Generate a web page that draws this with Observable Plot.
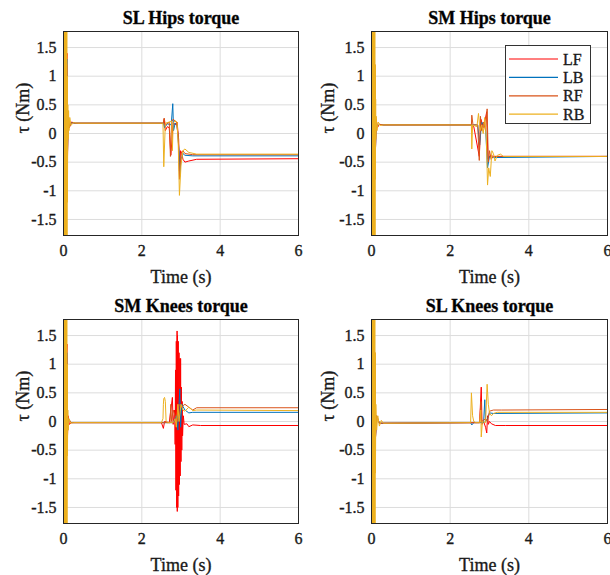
<!DOCTYPE html>
<html><head><meta charset="utf-8">
<script src="https://cdn.jsdelivr.net/npm/d3@7"></script>
<script src="https://cdn.jsdelivr.net/npm/@observablehq/plot@0.6"></script>
<style>
body{margin:0;background:#fff;}
#wrap{position:relative;width:610px;height:575px;overflow:hidden;font-family:"Liberation Serif","Times New Roman",serif;background:#fff;}
.panel{position:absolute;}
.panel text{stroke:#1a1a1a;stroke-width:0.35px;}
#legend{position:absolute;left:505px;top:45px;width:84px;height:77px;border:1px solid #333;background:#fff;}
#legend text{stroke:#1a1a1a;stroke-width:0.35px;}
</style></head><body><div id="wrap"></div><script>
// ---------- data ----------
const seriesNames = ["LF", "LB", "RF", "RB"];
const seriesColors = ["#FF0000", "#0072BD", "#D95319", "#EDB120"];
const xTicks = [0, 2, 4, 6];
const yTicks = [-1.5, -1, -0.5, 0, 0.5, 1, 1.5];
const yTickLabels = ["-1.5", "-1", "-0.5", "0", "0.5", "1", "1.5"];
const panelTitles = ["SL Hips torque", "SM Hips torque", "SM Knees torque", "SL Knees torque"];

// initial start-up burst (t in s, torque in Nm)
const burstRB = [[0,0],[0.004,1.8],[0.009,-1.8],[0.014,1.8],[0.019,-1.8],[0.024,1.8],[0.029,-1.8],[0.034,1.8],[0.039,-1.8],[0.044,1.8],[0.049,-1.8],[0.054,1.8],[0.059,-1.8],[0.064,1.8],[0.069,-1.8],[0.074,1.8],[0.079,-1.8],[0.084,1.8],[0.089,-1.8]];
const burstOther = [[0,0],[0.006,1.8],[0.013,-1.8],[0.02,1.8],[0.027,-1.8],[0.034,1.8],[0.041,-1.8],[0.048,1.6],[0.055,-1.6],[0.062,1.5],[0.07,-1.4],[0.078,1.2]];

// SL Hips torque
const slHipsLF = [[0.09,1.4],[0.1,-0.5],[0.12,0.3],[0.15,0.1],[0.2,0.2],[0.3,0.18],[2.55,0.18],[2.57,0.25],[2.6,0.05],[2.65,0.12],[2.7,0.1],[2.74,-0.38],[2.77,-0.1],[2.8,0.2],[2.85,0.15],[2.9,0.2],[2.94,-0.1],[2.96,-0.65],[2.99,-0.3],[3.02,-0.35],[3.05,-0.45],[3.1,-0.5],[3.2,-0.48],[3.4,-0.45],[6,-0.44]];
const slHipsLB = [[0.09,1.3],[0.1,-0.4],[0.12,0.3],[0.15,0.12],[0.2,0.19],[0.3,0.18],[2.55,0.18],[2.58,0.1],[2.65,0.17],[2.75,0.15],[2.79,0.52],[2.81,0.05],[2.85,0.18],[2.9,0.15],[2.95,-0.3],[2.97,-0.75],[3.0,-0.45],[3.05,-0.35],[3.1,-0.38],[3.3,-0.39],[6,-0.39]];
const slHipsRF = [[0.09,1.2],[0.1,-0.4],[0.12,0.25],[0.15,0.12],[0.2,0.19],[0.3,0.18],[2.55,0.18],[2.57,0.27],[2.6,0.15],[2.7,0.2],[2.73,-0.4],[2.76,0.2],[2.8,0.25],[2.88,0.2],[2.93,-0.05],[2.96,-0.8],[3.0,-0.35],[3.05,-0.3],[3.1,-0.35],[3.3,-0.37],[6,-0.37]];
const slHipsRB = [[0.095,1.0],[0.1,-1.2],[0.11,0.5],[0.12,-0.1],[0.13,0.4],[0.14,0.05],[0.16,0.28],[0.19,0.14],[0.25,0.19],[0.35,0.18],[2.54,0.18],[2.56,-0.58],[2.6,0.18],[2.7,0.2],[2.76,0.22],[2.78,-0.3],[2.8,0.18],[2.85,0.22],[2.9,0.2],[2.93,-0.2],[2.96,-1.08],[3.0,-0.55],[3.05,-0.3],[3.1,-0.27],[3.2,-0.33],[3.4,-0.36],[6,-0.36]];

// SM Hips torque
const smHipsLF = [[0.09,1.2],[0.1,-0.3],[0.12,0.25],[0.15,0.1],[0.2,0.16],[0.3,0.15],[2.55,0.15],[2.6,0.12],[2.74,-0.4],[2.78,0.25],[2.85,0.1],[2.93,0.38],[2.96,-0.45],[3.02,-0.38],[3.1,-0.4],[6,-0.4]];
const smHipsLB = [[0.09,1.1],[0.1,-0.3],[0.12,0.2],[0.15,0.12],[0.2,0.16],[0.3,0.15],[2.55,0.15],[2.7,0.15],[2.75,-0.2],[2.8,0.2],[2.9,0.1],[2.95,-0.6],[3.0,-0.4],[3.1,-0.42],[6,-0.4]];
const smHipsRF = [[0.09,1.0],[0.1,-0.3],[0.12,0.2],[0.15,0.12],[0.2,0.16],[0.3,0.15],[2.54,0.15],[2.55,0.32],[2.58,0.15],[2.7,0.15],[2.74,-0.47],[2.77,0.3],[2.8,0.05],[2.85,0.2],[2.9,0.05],[2.94,0.43],[2.97,-0.5],[3.0,-0.3],[3.04,-0.45],[3.1,-0.4],[6,-0.4]];
const smHipsRB = [[0.095,1.2],[0.1,-0.8],[0.105,0.6],[0.11,-0.1],[0.12,0.3],[0.14,0.05],[0.17,0.2],[0.22,0.14],[0.3,0.15],[2.54,0.15],[2.55,-0.27],[2.57,0.15],[2.68,0.12],[2.72,0.35],[2.76,0.05],[2.8,0.15],[2.84,0.0],[2.88,0.28],[2.92,-0.1],[2.95,-0.9],[2.98,-0.6],[3.02,-0.75],[3.06,-0.3],[3.1,-0.35],[3.14,-0.48],[3.2,-0.38],[3.28,-0.36],[3.35,-0.4],[6,-0.4]];

// SM Knees torque
const smKneesLF = [[0.09,1.35],[0.1,-0.3],[0.12,0.1],[0.15,-0.05],[0.2,-0.02],[2.5,-0.02],[2.55,-0.12],[2.58,0],[2.7,-0.02],[2.78,0.42],[2.8,-0.05],[2.84,0.2],[2.85,-0.4],[2.86,0.9],[2.87,-1.2],[2.88,1.4],[2.89,-1.5],[2.9,1.58],[2.905,-1.57],[2.91,1.5],[2.92,-1.5],[2.93,1.4],[2.94,-1.3],[2.95,1.2],[2.96,-1.1],[2.97,1.1],[2.98,-0.95],[2.99,1.1],[3.0,-0.7],[3.01,0.6],[3.02,-0.5],[3.03,0.35],[3.04,-0.25],[3.06,0.1],[3.08,-0.05],[3.15,-0.04],[3.2,-0.09],[3.3,-0.06],[3.5,-0.07],[6,-0.07]];
const smKneesLB = [[0.09,1.2],[0.1,-0.2],[0.12,0.05],[0.2,-0.02],[2.8,-0.02],[2.88,0.1],[2.92,-0.15],[2.95,0.3],[2.97,0.57],[2.99,-0.1],[3.02,0.3],[3.1,0.2],[3.2,0.15],[3.3,0.16],[6,0.16]];
const smKneesRF = [[0.09,1.1],[0.1,-0.2],[0.12,0.05],[0.2,-0.02],[2.72,-0.02],[2.74,0.3],[2.76,0],[2.8,0.2],[2.85,0.1],[2.9,0.0],[2.95,0.3],[3.0,0.25],[3.1,0.3],[3.2,0.25],[3.3,0.2],[3.4,0.24],[6,0.24]];
const smKneesRB = [[0.095,1.0],[0.1,-0.6],[0.11,0.2],[0.12,-0.15],[0.14,0.05],[0.18,-0.03],[0.25,-0.02],[2.5,-0.02],[2.54,0.05],[2.55,0.3],[2.56,0.4],[2.58,0.42],[2.6,0.35],[2.62,0.0],[2.65,-0.02],[2.8,-0.02],[2.85,0.05],[2.88,-0.1],[2.92,0.3],[2.95,0.0],[3.0,0.3],[3.05,0.2],[3.1,0.18],[3.2,0.25],[3.3,0.19],[3.4,0.2],[6,0.19]];

// SL Knees torque
const slKneesLF = [[0.09,1.2],[0.1,-0.3],[0.13,0.1],[0.2,-0.03],[2.75,-0.02],[2.77,0.3],[2.79,0.6],[2.81,-0.05],[2.85,0.0],[2.9,-0.1],[2.93,-0.2],[2.95,0.1],[2.97,-0.05],[3.0,0.0],[3.05,-0.04],[3.15,-0.07],[3.4,-0.07],[6,-0.07]];
const slKneesLB = [[0.09,1.1],[0.1,-0.3],[0.13,0.1],[0.2,-0.03],[2.52,-0.02],[2.55,-0.06],[2.6,-0.02],[2.85,-0.02],[2.88,0.38],[2.9,0.0],[2.95,0.05],[3.0,0.15],[3.1,0.14],[6,0.15]];
const slKneesRF = [[0.09,1.0],[0.1,-0.3],[0.13,0.1],[0.2,-0.03],[2.75,-0.02],[2.78,0.35],[2.8,0.0],[2.9,0.05],[2.95,0.0],[3.0,0.18],[3.1,0.2],[3.3,0.2],[6,0.21]];
const slKneesRB = [[0.095,1.2],[0.1,-0.9],[0.11,0.3],[0.13,-0.15],[0.16,0.1],[0.2,-0.08],[0.25,0.02],[0.3,-0.03],[2.52,-0.02],[2.54,0.5],[2.57,0.1],[2.6,0.0],[2.65,-0.02],[2.75,-0.02],[2.78,0.2],[2.79,-0.27],[2.82,0.0],[2.9,-0.02],[2.94,0.65],[2.97,0.3],[3.0,0.15],[3.05,0.1],[3.1,0.14],[3.2,0.16],[6,0.16]];

// ---------- drawing ----------
const panels = [
  {title: panelTitles[0], data: [slHipsLF, slHipsLB, slHipsRF, slHipsRB], left: 0, top: 0, height: 290, ml: 63, mr: 7, mt: 31, mb: 55, ydx: -40},
  {title: panelTitles[1], data: [smHipsLF, smHipsLB, smHipsRF, smHipsRB], left: 305, top: 0, height: 290, ml: 66, mr: 3, mt: 31, mb: 55, ydx: -43},
  {title: panelTitles[2], data: [smKneesLF, smKneesLB, smKneesRF, smKneesRB], left: 0, top: 290, height: 285, ml: 63, mr: 7, mt: 29, mb: 52, ydx: -40},
  {title: panelTitles[3], data: [slKneesLF, slKneesLB, slKneesRF, slKneesRB], left: 305, top: 290, height: 285, ml: 66, mr: 3, mt: 29, mb: 52, ydx: -43}
];

const wrap = document.getElementById("wrap");
for (const p of panels) {
  const rows = [];
  seriesNames.forEach((s, i) => {
    const burst = s === "RB" ? burstRB : burstOther;
    burst.concat(p.data[i]).forEach(([t, v]) => rows.push({t, v, s}));
  });
  const chart = Plot.plot({
    width: 305, height: p.height,
    marginLeft: p.ml, marginRight: p.mr, marginTop: p.mt, marginBottom: p.mb,
    style: {fontFamily: "'Liberation Serif','Times New Roman',serif", fontSize: "16px", color: "#1a1a1a", background: "transparent"},
    x: {domain: [0, 6]},
    y: {domain: [-1.78, 1.78]},
    color: {domain: seriesNames, range: seriesColors},
    marks: [
      Plot.gridX(xTicks, {stroke: "#dcdcdc", strokeOpacity: 1, strokeWidth: 1}),
      Plot.gridY(yTicks, {stroke: "#dcdcdc", strokeOpacity: 1, strokeWidth: 1}),
      Plot.line(rows, {x: "t", y: "v", z: "s", stroke: "s", strokeWidth: 1, clip: true}),
      Plot.frame({stroke: "#262626", strokeWidth: 1}),
      Plot.axisX(xTicks, {tickSize: 0, tickPadding: 9, fontSize: 16, label: null, tickFormat: d => String(d)}),
      Plot.axisY(yTicks, {tickSize: 0, tickPadding: 7, fontSize: 16, label: null, tickFormat: d => yTickLabels[yTicks.indexOf(d)]}),
      Plot.text([p.title], {text: d => d, frameAnchor: "top", lineAnchor: "middle", dy: -13, fontSize: 18, fontWeight: "bold", fill: "#000"}),
      Plot.text(["Time (s)"], {text: d => d, frameAnchor: "bottom", lineAnchor: "middle", dy: 42, fontSize: 18, fill: "#1a1a1a"}),
      Plot.text(["τ (Nm)"], {text: d => d, frameAnchor: "left", lineAnchor: "middle", dx: p.ydx, rotate: -90, fontSize: 18, fill: "#1a1a1a"})
    ]
  });
  chart.classList.add("panel");
  chart.style.left = p.left + "px";
  chart.style.top = p.top + "px";
  wrap.appendChild(chart);
}

// legend (top-right panel)
const legend = document.createElement("div");
legend.id = "legend";
const ns = "http://www.w3.org/2000/svg";
const lsvg = document.createElementNS(ns, "svg");
lsvg.setAttribute("width", 84); lsvg.setAttribute("height", 77);
seriesNames.forEach((s, i) => {
  const y = 13 + i * 18.4;
  const line = document.createElementNS(ns, "line");
  line.setAttribute("x1", 3); line.setAttribute("x2", 52);
  line.setAttribute("y1", y); line.setAttribute("y2", y);
  line.setAttribute("stroke", seriesColors[i]); line.setAttribute("stroke-width", 1.2);
  lsvg.appendChild(line);
  const tx = document.createElementNS(ns, "text");
  tx.setAttribute("x", 57); tx.setAttribute("y", y + 5.5);
  tx.setAttribute("font-size", 16); tx.setAttribute("font-family", "'Liberation Serif',serif");
  tx.setAttribute("fill", "#1a1a1a");
  tx.textContent = s;
  lsvg.appendChild(tx);
});
legend.appendChild(lsvg);
wrap.appendChild(legend);
</script></body></html>
